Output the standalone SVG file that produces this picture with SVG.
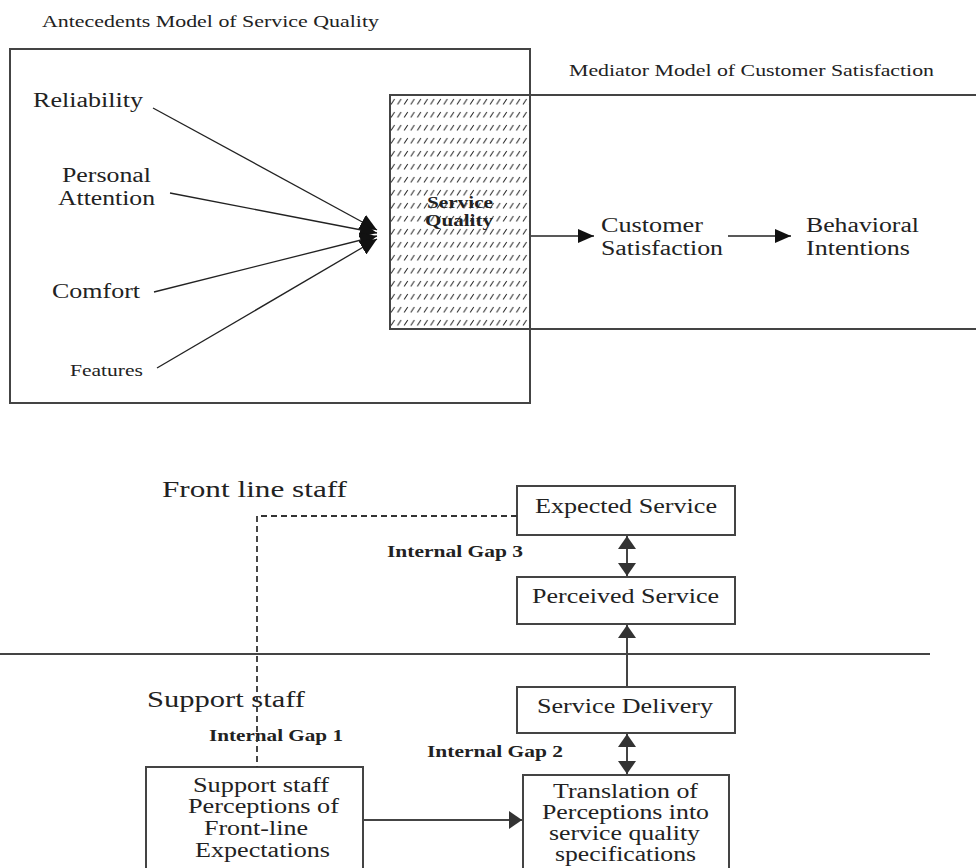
<svg xmlns="http://www.w3.org/2000/svg" width="976" height="868" viewBox="0 0 976 868">
<style>
text{font-family:"Liberation Serif","Times New Roman",serif;fill:#222;}
.t17{font-size:17px;}
.t20{font-size:20px;}
.t23{font-size:23px;}
.b16{font-size:16px;font-weight:bold;}
.box{fill:none;stroke:#444;stroke-width:2;}
.ln{fill:none;stroke:#222;stroke-width:1.3;}
.ln2{fill:none;stroke:#444;stroke-width:2;}
</style>
<defs>
<pattern id="hatch" patternUnits="userSpaceOnUse" x="390" y="95" width="6.6" height="13">
<path d="M1,9.5 L4.5,4" stroke="#222" stroke-width="1"/>
</pattern>
<marker id="ahTop" markerUnits="userSpaceOnUse" markerWidth="16" markerHeight="14" refX="16" refY="7" orient="auto">
<path d="M0,0 L16,7 L0,14 z" fill="#111"/>
</marker>
<marker id="ahAnt" markerUnits="userSpaceOnUse" markerWidth="17" markerHeight="16" refX="17" refY="8" orient="auto">
<path d="M0,0 L17,8 L0,16 z" fill="#111"/>
</marker>
<marker id="ahBot" markerUnits="userSpaceOnUse" markerWidth="13" markerHeight="18" refX="13" refY="9" orient="auto-start-reverse">
<path d="M0,0 L13,9 L0,18 z" fill="#333"/>
</marker>
</defs>

<g id="antecedents-frame">
<rect class="box" x="10" y="49" width="520" height="354"/>
<text class="t17" x="42" y="27" textLength="337" lengthAdjust="spacingAndGlyphs">Antecedents Model of Service Quality</text>
</g>

<g id="mediator-frame">
<path class="box" d="M390,95 H976 M390,329 H976"/>
<text class="t17" x="569" y="76" textLength="365" lengthAdjust="spacingAndGlyphs">Mediator Model of Customer Satisfaction</text>
</g>

<g id="service-quality">
<rect x="390" y="95" width="140" height="234" fill="url(#hatch)" stroke="#444" stroke-width="2"/>
<text class="b16" x="427" y="208" textLength="66" lengthAdjust="spacingAndGlyphs">Service</text>
<text class="b16" x="425" y="226" textLength="68" lengthAdjust="spacingAndGlyphs">Quality</text>
</g>

<g id="reliability"><text class="t20" x="33" y="107" textLength="110" lengthAdjust="spacingAndGlyphs">Reliability</text></g>
<g id="personal-attention">
<text class="t20" x="62" y="182" textLength="89" lengthAdjust="spacingAndGlyphs">Personal</text>
<text class="t20" x="58" y="205" textLength="97" lengthAdjust="spacingAndGlyphs">Attention</text>
</g>
<g id="comfort"><text class="t20" x="52" y="298" textLength="88" lengthAdjust="spacingAndGlyphs">Comfort</text></g>
<g id="features"><text x="70" y="376" style="font-size:16.5px" textLength="73" lengthAdjust="spacingAndGlyphs">Features</text></g>

<g id="customer-satisfaction">
<text class="t20" x="601" y="232" textLength="102" lengthAdjust="spacingAndGlyphs">Customer</text>
<text class="t20" x="601" y="255" textLength="122" lengthAdjust="spacingAndGlyphs">Satisfaction</text>
</g>
<g id="behavioral-intentions">
<text class="t20" x="806" y="232" textLength="113" lengthAdjust="spacingAndGlyphs">Behavioral</text>
<text class="t20" x="806" y="255" textLength="104" lengthAdjust="spacingAndGlyphs">Intentions</text>
</g>

<g id="lane-labels">
<text class="t23" x="162" y="497" textLength="185" lengthAdjust="spacingAndGlyphs">Front line staff</text>
<text class="t23" x="147" y="707" textLength="158" lengthAdjust="spacingAndGlyphs">Support staff</text>
<line class="ln2" x1="0" y1="654" x2="930" y2="654"/>
</g>

<g id="expected-service">
<rect class="box" x="517" y="486" width="218" height="49"/>
<text class="t20" x="535" y="513" textLength="182" lengthAdjust="spacingAndGlyphs">Expected Service</text>
</g>
<g id="perceived-service">
<rect class="box" x="517" y="577" width="218" height="47"/>
<text class="t20" x="532" y="603" textLength="187" lengthAdjust="spacingAndGlyphs">Perceived Service</text>
</g>
<g id="service-delivery">
<rect class="box" x="517" y="687" width="218" height="46"/>
<text class="t20" x="537" y="713" textLength="176" lengthAdjust="spacingAndGlyphs">Service Delivery</text>
</g>
<g id="support-perceptions">
<rect class="box" x="146" y="767" width="217" height="120"/>
<text class="t20" x="193" y="792" textLength="136" lengthAdjust="spacingAndGlyphs">Support staff</text>
<text class="t20" x="188" y="813" textLength="151" lengthAdjust="spacingAndGlyphs">Perceptions of</text>
<text class="t20" x="204" y="835" textLength="104" lengthAdjust="spacingAndGlyphs">Front-line</text>
<text class="t20" x="195" y="857" textLength="135" lengthAdjust="spacingAndGlyphs">Expectations</text>
</g>
<g id="translation">
<rect class="box" x="523" y="775" width="206" height="112"/>
<text class="t20" x="553" y="798" textLength="145" lengthAdjust="spacingAndGlyphs">Translation of</text>
<text class="t20" x="542" y="819" textLength="167" lengthAdjust="spacingAndGlyphs">Perceptions into</text>
<text class="t20" x="549" y="840" textLength="151" lengthAdjust="spacingAndGlyphs">service quality</text>
<text class="t20" x="555" y="861" textLength="141" lengthAdjust="spacingAndGlyphs">specifications</text>
</g>

<g id="gap-labels">
<text class="b16" x="387" y="557" textLength="136" lengthAdjust="spacingAndGlyphs">Internal Gap 3</text>
<text class="b16" x="209" y="741" textLength="134" lengthAdjust="spacingAndGlyphs">Internal Gap 1</text>
<text class="b16" x="427" y="757" textLength="136" lengthAdjust="spacingAndGlyphs">Internal Gap 2</text>
</g>

<g id="connectors">
<line class="ln" x1="153" y1="108" x2="377" y2="230" marker-end="url(#ahAnt)"/>
<line class="ln" x1="170" y1="193" x2="377" y2="233" marker-end="url(#ahAnt)"/>
<line class="ln" x1="154" y1="292" x2="377" y2="236" marker-end="url(#ahAnt)"/>
<line class="ln" x1="157" y1="368" x2="377" y2="239" marker-end="url(#ahAnt)"/>
<line class="ln" x1="531" y1="236" x2="594" y2="236" marker-end="url(#ahTop)"/>
<line class="ln" x1="728" y1="236" x2="791" y2="236" marker-end="url(#ahTop)"/>
<line class="ln2" x1="627" y1="536" x2="627" y2="576" marker-start="url(#ahBot)" marker-end="url(#ahBot)"/>
<line class="ln2" x1="627" y1="687" x2="627" y2="625" marker-end="url(#ahBot)"/>
<line class="ln2" x1="627" y1="734" x2="627" y2="774" marker-start="url(#ahBot)" marker-end="url(#ahBot)"/>
<line class="ln2" x1="363" y1="820" x2="522" y2="820" marker-end="url(#ahBot)"/>
<path d="M517,516 H257 V767" fill="none" stroke="#333" stroke-width="1.8" stroke-dasharray="6,4"/>
</g>
</svg>
